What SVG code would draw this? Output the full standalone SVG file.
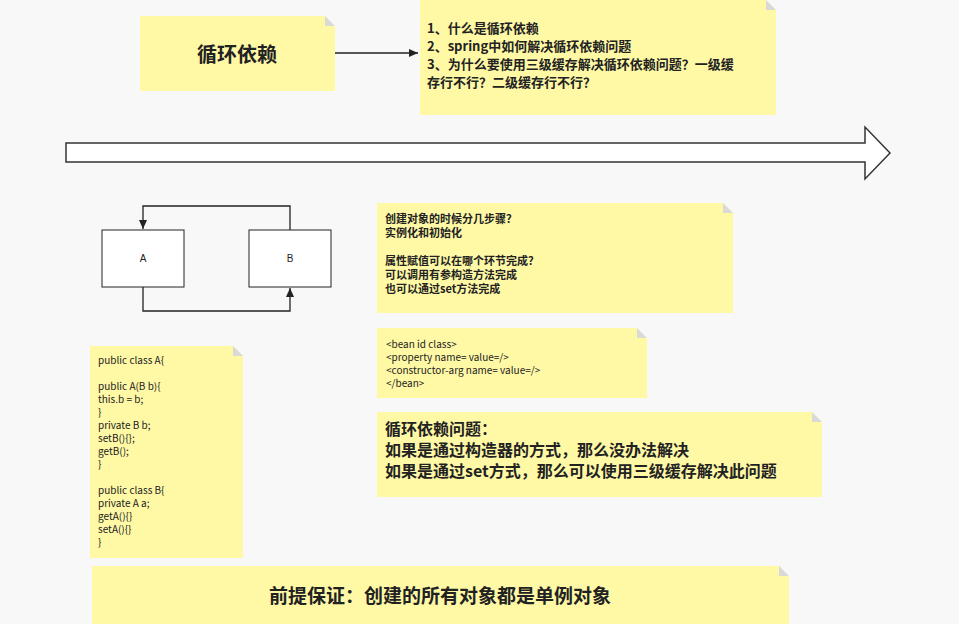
<svg xmlns="http://www.w3.org/2000/svg" width="959" height="624" viewBox="0 0 959 624">
<style>
.n{fill:#fff9a6}
.f{fill:#d9d9d9}
text{font-family:"Noto Sans CJK SC","Noto Sans",sans-serif;fill:#222}
.s{font-size:11px}
.m{font-size:13px}
.b{font-weight:bold}
.c{font-family:"Liberation Sans","Noto Sans CJK SC",sans-serif;font-size:10px}
.ln{fill:none;stroke:#222;stroke-width:1.3}
</style>
<defs><marker id="ar" markerWidth="10" markerHeight="10" refX="9" refY="5" orient="auto" markerUnits="userSpaceOnUse"><path d="M0,1 L9,5 L0,9 Z" fill="#222"/></marker></defs>
<rect width="959" height="624" fill="#f8f8f8"/>
<g id="n1"><path class="n" d="M140,16 H325 L335,26 V91 H140 Z"/><path class="f" d="M325,16 L335,26 H325 Z"/><text x="237" y="62" text-anchor="middle" class="b" font-size="20">循环依赖</text></g>
<g id="n2"><path class="n" d="M420,0 H766 L776,10 V115 H420 Z"/><path class="f" d="M766,0 L776,10 H766 Z"/><text class="m b" x="427" y="33">1、什么是循环依赖</text><text class="m b" x="427" y="51">2、spring中如何解决循环依赖问题</text><text class="m b" x="427" y="69">3、为什么要使用三级缓存解决循环依赖问题？一级缓</text><text class="m b" x="427" y="87">存行不行？二级缓存行不行？</text></g>
<g id="bigarrow"><path d="M66,143 H865 V127 L890,153 L865,179 V162 H66 Z" fill="#fff" stroke="#333" stroke-width="1.5"/></g>
<g id="A"><rect x="102" y="230" width="82" height="57" fill="#fff" stroke="#222"/><text x="143" y="262" text-anchor="middle" class="c">A</text></g>
<g id="B"><rect x="249" y="230" width="82" height="57" fill="#fff" stroke="#222"/><text x="290" y="262" text-anchor="middle" class="c">B</text></g>
<g id="n3"><path class="n" d="M377,203 H723 L733,213 V313 H377 Z"/><path class="f" d="M723,203 L733,213 H723 Z"/><g class="s b"><text x="385" y="223">创建对象的时候分几步骤？</text><text x="385" y="237">实例化和初始化</text><text x="385" y="265">属性赋值可以在哪个环节完成？</text><text x="385" y="279">可以调用有参构造方法完成</text><text x="385" y="293">也可以通过set方法完成</text></g></g>
<g id="n4"><path class="n" d="M377,328 H637 L647,338 V398 H377 Z"/><path class="f" d="M637,328 L647,338 H637 Z"/><g class="c" font-size="11"><text x="386" y="348">&lt;bean id class&gt;</text><text x="386" y="361">&lt;property name= value=/&gt;</text><text x="386" y="374">&lt;constructor-arg name= value=/&gt;</text><text x="386" y="387">&lt;/bean&gt;</text></g></g>
<g id="n5"><path class="n" d="M377,412 H812 L822,422 V497 H377 Z"/><path class="f" d="M812,412 L822,422 H812 Z"/><g font-size="16" class="b"><text x="385" y="435">循环依赖问题：</text><text x="385" y="456">如果是通过构造器的方式，那么没办法解决</text><text x="385" y="477">如果是通过set方式，那么可以使用三级缓存解决此问题</text></g></g>
<g id="code"><path class="n" d="M90,346 H233 L243,356 V558 H90 Z"/><path class="f" d="M233,346 L243,356 H233 Z"/><g class="c"><text x="98" y="364">public class A{</text><text x="98" y="390">public A(B b){</text><text x="98" y="403">this.b = b;</text><text x="98" y="416">}</text><text x="98" y="429">private B b;</text><text x="98" y="442">setB(){};</text><text x="98" y="455">getB();</text><text x="98" y="468">}</text><text x="98" y="494">public class B{</text><text x="98" y="507">private A a;</text><text x="98" y="520">getA(){}</text><text x="98" y="533">setA(){}</text><text x="98" y="546">}</text></g></g>
<g id="n6"><path class="n" d="M92,566 H779 L789,576 V624 H92 Z"/><path class="f" d="M779,566 L789,576 H779 Z"/><text x="440" y="603" text-anchor="middle" font-size="19" class="b">前提保证：创建的所有对象都是单例对象</text></g>
<g id="connectors">
<path class="ln" d="M335,53 H418" marker-end="url(#ar)"/>
<path class="ln" d="M290,230 V206 H143 V229" marker-end="url(#ar)"/>
<path class="ln" d="M143,287 V311 H290 V288" marker-end="url(#ar)"/>
</g>
</svg>
